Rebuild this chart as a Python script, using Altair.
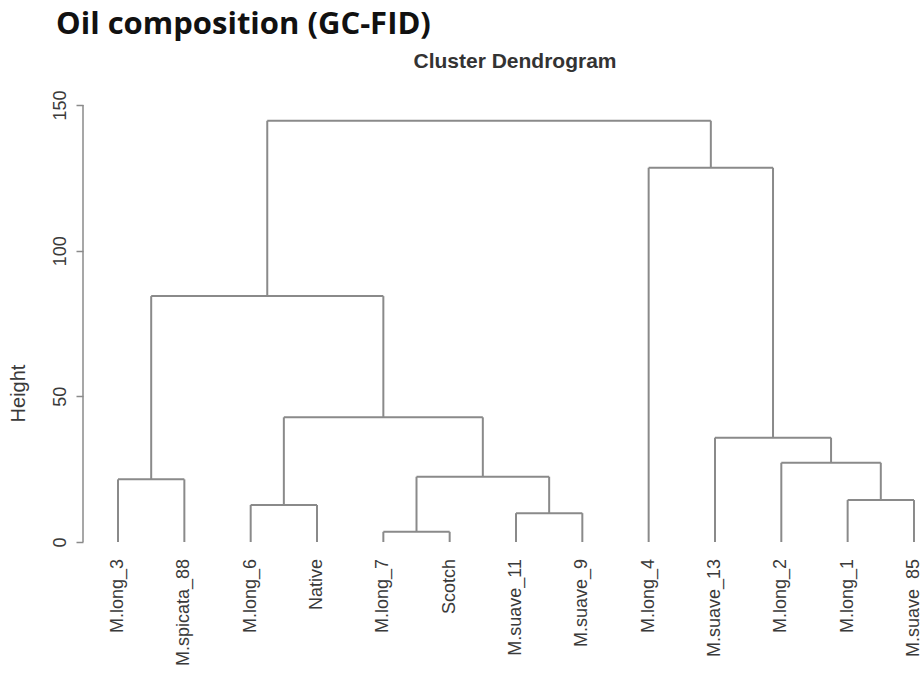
import altair as alt
import pandas as pd

# ---- data ----
leaves = ["M.long_3", "M.spicata_88", "M.long_6", "Native", "M.long_7", "Scotch",
          "M.suave_11", "M.suave_9", "M.long_4", "M.suave_13", "M.long_2",
          "M.long_1", "M.suave_85"]
# R-style merge table: negative = leaf (1-based position), positive = earlier merge
merge_left = [-5, -7, -3, -12, -1, 1, -11, -10, 3, 5, -9, 10]
merge_right = [-6, -8, -4, -13, -2, 2, 4, 7, 6, 9, 8, 11]
merge_height = [3.5, 9.9, 12.7, 14.4, 21.5, 22.4, 27.2, 35.8, 42.8, 84.4, 128.5, 144.6]
y_ticks = [0, 50, 100, 150]

main_title = "Oil composition (GC-FID)"
sub_title = "Cluster Dendrogram"
y_title = "Height"

# ---- build dendrogram segments from the merge table ----
node_x, node_h = {}, {}


def pos(ref):
    if ref < 0:
        return float(-ref), 0.0
    return node_x[ref], node_h[ref]


hseg, vseg = [], []
for i, (a, b, h) in enumerate(zip(merge_left, merge_right, merge_height), start=1):
    xa, ha = pos(a)
    xb, hb = pos(b)
    hseg.append({"x": xa, "x2": xb, "y": h})
    vseg.append({"x": xa, "y": ha, "y2": h})
    vseg.append({"x": xb, "y": hb, "y2": h})
    node_x[i] = (xa + xb) / 2
    node_h[i] = h

hdf = pd.DataFrame(hseg)
vdf = pd.DataFrame(vseg)
ldf = pd.DataFrame({"x": list(range(1, len(leaves) + 1)), "y": [0] * len(leaves), "label": leaves})
adf = pd.DataFrame({"y": [y_ticks[0]], "y2": [y_ticks[-1]]})

LINE = "#8a8a8a"
TEXT = "#3a3a3a"
FONT = "Liberation Sans"

xs = alt.Scale(domain=[0.472, 13.106], nice=False, zero=False)
ys = alt.Scale(domain=[-1.03, 151.72], nice=False, zero=False)
yaxis = alt.Axis(values=y_ticks, domain=False, grid=False, tickSize=7, tickColor=LINE,
                 tickWidth=1.5, labelAngle=270, labelAlign="center", labelBaseline="alphabetic",
                 labelPadding=11, labelFontSize=18, labelFont=FONT, labelColor=TEXT,
                 title=y_title, titleFont=FONT, titleFontSize=20, titleFontWeight="normal",
                 titleColor=TEXT, titleAngle=270, titleAlign="center", titleBaseline="bottom",
                 titleX=-55, titleY=293)

base_x = lambda: alt.X("x:Q", scale=xs, axis=None)

horiz = alt.Chart(hdf).mark_rule(color=LINE, strokeWidth=2).encode(
    x=base_x(), x2="x2:Q", y=alt.Y("y:Q", scale=ys, axis=yaxis)
)
vert = alt.Chart(vdf).mark_rule(color=LINE, strokeWidth=2).encode(
    x=base_x(), y=alt.Y("y:Q", scale=ys, axis=yaxis), y2="y2:Q"
)
axis_line = alt.Chart(adf).mark_rule(color=LINE, strokeWidth=1.5).encode(
    x=alt.value(0), y=alt.Y("y:Q", scale=ys, axis=yaxis), y2="y2:Q"
)
labels = alt.Chart(ldf).mark_text(angle=270, align="right", baseline="middle", dx=-17,
                                  fontSize=18, font=FONT, color=TEXT).encode(
    x=base_x(), y=alt.Y("y:Q", scale=ys, axis=yaxis), text="label:N"
)
t1 = alt.Chart(pd.DataFrame({"t": [main_title]})).mark_text(
    align="left", baseline="alphabetic", font="Open Sans", fontWeight="bold", fontSize=31,
    color="#111111").encode(text="t:N", x=alt.value(-27), y=alt.value(-66))
t2 = alt.Chart(pd.DataFrame({"t": [sub_title]})).mark_text(
    align="center", baseline="alphabetic", font=FONT, fontWeight="bold", fontSize=21,
    color="#333333").encode(text="t:N", x=alt.value(432), y=alt.value(-32))

chart = alt.layer(horiz, vert, axis_line, labels, t1, t2).properties(
    width=838, height=445,
    autosize=alt.AutoSizeParams(type="none"),
    padding={"left": 83, "top": 100, "right": 0, "bottom": 132},
).configure(background="white", view=alt.ViewConfig(stroke=None))

chart.save("out.html", embed_options={"renderer": "svg", "actions": False})
